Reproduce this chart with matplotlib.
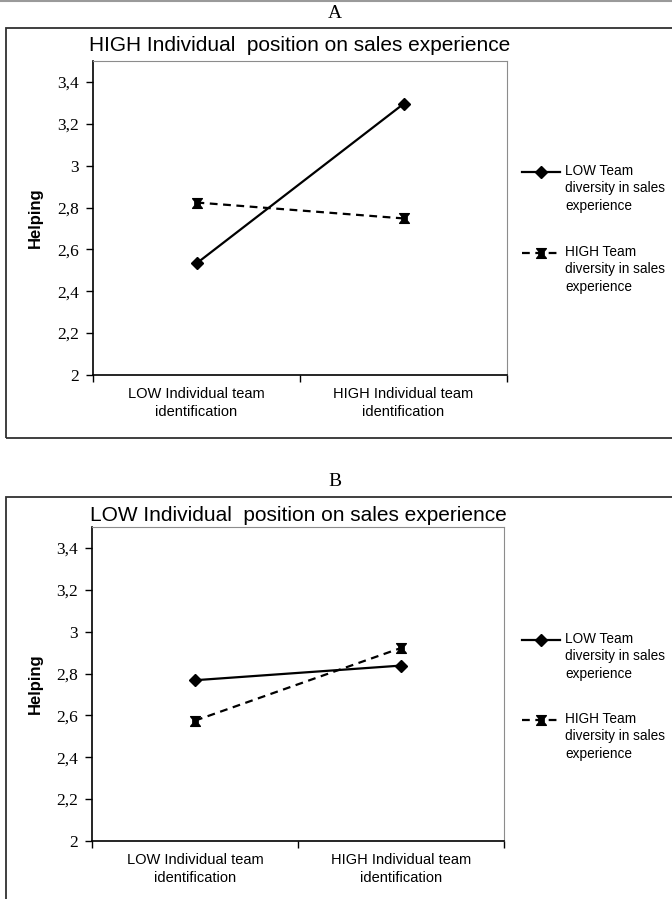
import numpy as np
import matplotlib.pyplot as plt
from matplotlib.lines import Line2D
from matplotlib.patches import Rectangle
from matplotlib.path import Path

W, H = 672, 899

groups = ['LOW Individual team\nidentification', 'HIGH Individual team\nidentification']
series = ['LOW Team\ndiversity in sales\nexperience', 'HIGH Team\ndiversity in sales\nexperience']
yticks = [2, 2.2, 2.4, 2.6, 2.8, 3, 3.2, 3.4]
ytick_labels = ['2', '2,2', '2,4', '2,6', '2,8', '3', '3,2', '3,4']

titles_a = 'HIGH Individual  position on sales experience'
low_a = [2.533, 3.295]
high_a = [2.824, 2.748]

titles_b = 'LOW Individual  position on sales experience'
low_b = [2.768, 2.838]
high_b = [2.575, 2.922]

# small I-beam marker like the old Excel one
ibeam = Path([(-1, 1), (1, 1), (0.55, 0.45), (0.55, -0.45), (1, -1), (-1, -1),
              (-0.55, -0.45), (-0.55, 0.45), (-1, 1)],
             [Path.MOVETO] + [Path.LINETO] * 7 + [Path.CLOSEPOLY])

sans = 'Liberation Sans'
serif = 'Liberation Serif'

fig = plt.figure(figsize=(W / 100, H / 100), dpi=100)


def fx(x):
    return x / W


def fy(y):
    return 1 - y / H


# thin rule along the very top
fig.add_artist(Line2D([0, 1], [fy(1), fy(1)], color='#9a9a9a', lw=1.5))

styles = [dict(ls='-', marker='D', ms=6), dict(ls=(0, (3.5, 2.5)), marker=ibeam, ms=7)]


def panel(letter, top, title, low, high, ax_box, leg_y, title_pad):
    fig.text(fx(335), fy(top - 15), letter, family=serif, fontsize=14, ha='center', va='center')
    fig.add_artist(Rectangle((fx(6), fy(top + 410)), 1.2, 410 / H, transform=fig.transFigure,
                             fill=False, ec='#303030', lw=1.3))
    l, t, r, b = ax_box
    ax = fig.add_axes([fx(l), fy(b), (r - l) / W, (b - t) / H])
    for vals, st in zip((low, high), styles):
        ax.plot([0.5, 1.5], vals, color='black', lw=1.6, mfc='black', mec='black', **st)
    ax.set_xlim(0, 2)
    ax.set_ylim(2, 3.5)
    ax.set_yticks(yticks)
    ax.set_yticklabels(ytick_labels, family=serif, fontsize=12.5)
    ax.set_xticks([0, 1, 2])
    ax.set_xticklabels([])
    ax.set_xticks([0.5, 1.5], minor=True)
    ax.set_xticklabels(groups, minor=True, family=sans, fontsize=10.5, linespacing=1.3)
    ax.tick_params(axis='x', which='minor', length=0, pad=9)
    ax.tick_params(axis='x', which='major', length=5, direction='out', width=1)
    ax.tick_params(axis='y', length=5, direction='out', width=1, pad=5)
    for s in ('top', 'right'):
        ax.spines[s].set_color('#8c8c8c')
    for s in ('left', 'bottom'):
        ax.spines[s].set_linewidth(1.2)
    ax.set_ylabel('Helping', family=sans, fontsize=12, fontweight='bold')
    ax.yaxis.set_label_coords((43 - l) / (r - l), 0.5)
    ax.set_title(title, family=sans, fontsize=15, pad=title_pad)
    # legend drawn beside the plot area, handle level with the first text line
    for y, lab, st in zip(leg_y, series, styles):
        fig.add_artist(Line2D([fx(522), fx(560)], [fy(y), fy(y)], color='black', lw=1.6,
                              ls=st['ls'], transform=fig.transFigure))
        fig.add_artist(Line2D([fx(541)], [fy(y)], color='black', ls='none', marker=st['marker'],
                              ms=st['ms'], mfc='black', mec='black', transform=fig.transFigure))
        fig.text(fx(565), fy(y - 8), lab, family=sans, fontsize=9.8, va='top', linespacing=1.3)
    return ax


panel('A', 28, titles_a, low_a, high_a, (93, 61, 507, 375), (172, 253), 7)
panel('B', 497, titles_b, low_b, high_b, (92, 527, 504, 841), (640, 720), 4)

plt.savefig('out.png', dpi=100)
